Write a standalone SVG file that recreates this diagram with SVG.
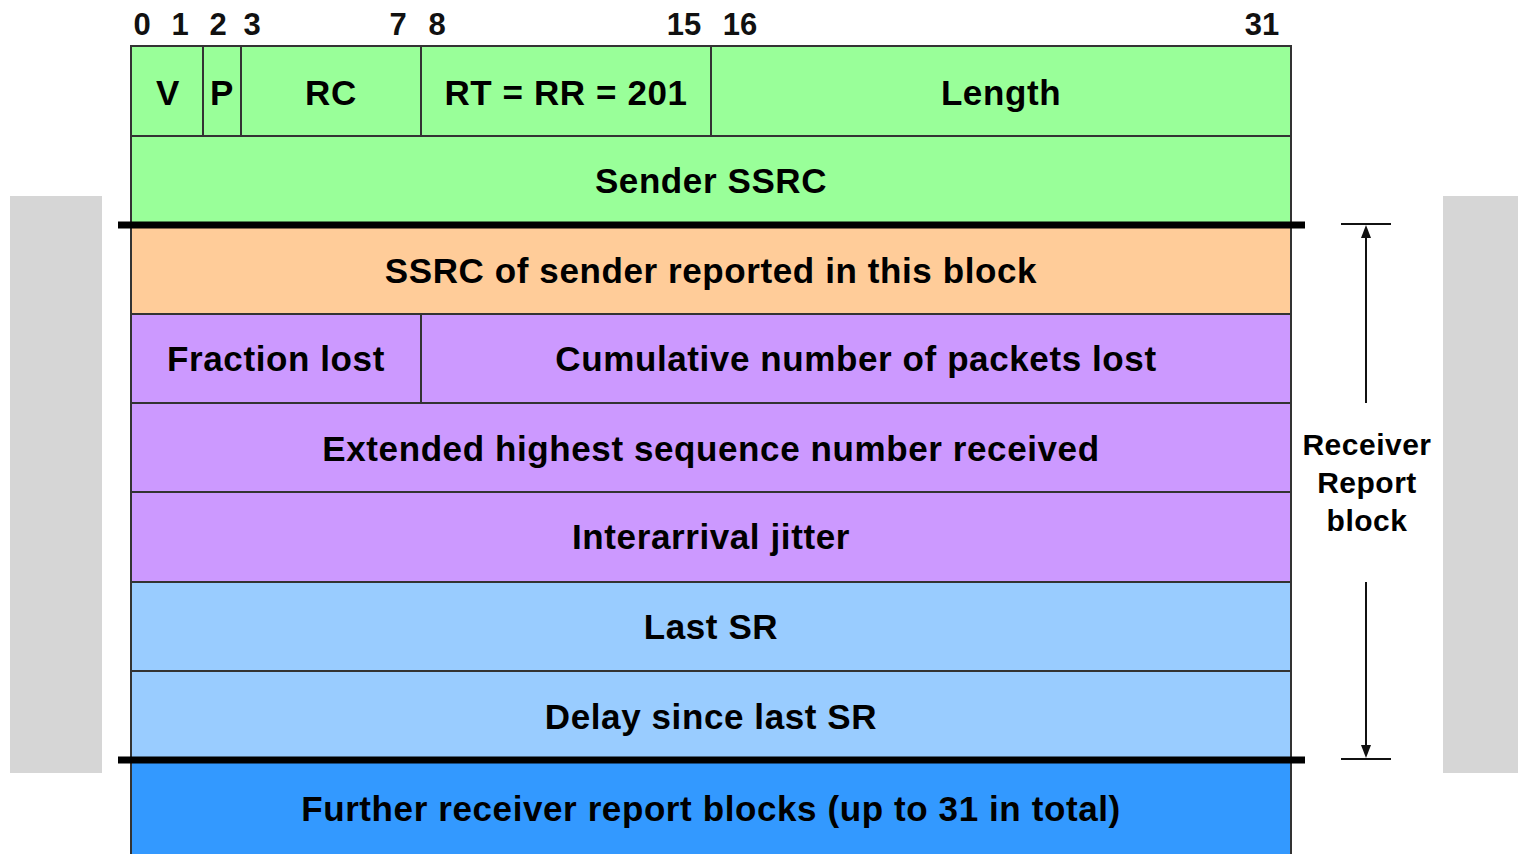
<svg xmlns="http://www.w3.org/2000/svg" width="1518" height="854" viewBox="0 0 1518 854">
<defs>
<style>
.t{font-family:"Liberation Sans",Arial,sans-serif;font-weight:bold;font-size:35px;fill:#000;text-anchor:middle;letter-spacing:0.6px}
.n{font-family:"Liberation Sans",Arial,sans-serif;font-weight:bold;font-size:31px;fill:#111;text-anchor:middle}
.s{font-family:"Liberation Sans",Arial,sans-serif;font-weight:bold;font-size:30px;fill:#000;text-anchor:middle;letter-spacing:0.5px}
.c{stroke:#333;stroke-width:2}
.div{stroke:#333;stroke-width:2}
.thick{stroke:#000;stroke-width:7}
.dim{stroke:#111;stroke-width:2;fill:none}
.head{fill:#111}
</style>
</defs>
<rect width="1518" height="854" fill="#fff"/>
<rect x="10" y="196" width="92" height="577" fill="#d6d6d6"/>
<rect x="1443" y="196" width="75" height="577" fill="#d6d6d6"/>

<g id="bits">
<text class="n" x="142" y="35">0</text>
<text class="n" x="180" y="35">1</text>
<text class="n" x="218" y="35">2</text>
<text class="n" x="252" y="35">3</text>
<text class="n" x="398" y="35">7</text>
<text class="n" x="437" y="35">8</text>
<text class="n" x="684" y="35">15</text>
<text class="n" x="740" y="35">16</text>
<text class="n" x="1262" y="35">31</text>
</g>

<g id="row-header">
<rect class="c" x="131" y="46" width="1160" height="90" fill="#99ff99"/>
<line class="div" x1="203" y1="46" x2="203" y2="136"/>
<line class="div" x1="241" y1="46" x2="241" y2="136"/>
<line class="div" x1="421" y1="46" x2="421" y2="136"/>
<line class="div" x1="711" y1="46" x2="711" y2="136"/>
<text class="t" x="168" y="105">V</text>
<text class="t" x="222" y="105">P</text>
<text class="t" x="331" y="105">RC</text>
<text class="t" x="566" y="105">RT = RR = 201</text>
<text class="t" x="1001" y="105">Length</text>
</g>
<g id="sender-ssrc">
<rect class="c" x="131" y="136" width="1160" height="88" fill="#99ff99"/>
<text class="t" x="711" y="193">Sender SSRC</text>
</g>
<g id="ssrc-reported">
<rect class="c" x="131" y="225" width="1160" height="89" fill="#ffcc99"/>
<text class="t" x="711" y="283">SSRC of sender reported in this block</text>
</g>
<g id="lost">
<rect class="c" x="131" y="314" width="1160" height="89" fill="#cc99ff"/>
<line class="div" x1="421" y1="314" x2="421" y2="403"/>
<text class="t" x="276" y="371">Fraction lost</text>
<text class="t" x="856" y="371">Cumulative number of packets lost</text>
</g>
<g id="ext-seq">
<rect class="c" x="131" y="403" width="1160" height="89" fill="#cc99ff"/>
<text class="t" x="711" y="461">Extended highest sequence number received</text>
</g>
<g id="jitter">
<rect class="c" x="131" y="492" width="1160" height="90" fill="#cc99ff"/>
<text class="t" x="711" y="549">Interarrival jitter</text>
</g>
<g id="last-sr">
<rect class="c" x="131" y="582" width="1160" height="89" fill="#99ccff"/>
<text class="t" x="711" y="639">Last SR</text>
</g>
<g id="delay">
<rect class="c" x="131" y="671" width="1160" height="89" fill="#99ccff"/>
<text class="t" x="711" y="729">Delay since last SR</text>
</g>
<g id="further">
<rect class="c" x="131" y="760" width="1160" height="100" fill="#3399ff"/>
<text class="t" x="711" y="821">Further receiver report blocks (up to 31 in total)</text>
</g>

<g id="separators">
<line class="thick" x1="118" y1="225" x2="1305" y2="225"/>
<line class="thick" x1="118" y1="760" x2="1305" y2="760"/>
</g>

<g id="connectors">
<line class="dim" x1="1341" y1="224" x2="1391" y2="224"/>
<line class="dim" x1="1341" y1="759" x2="1391" y2="759"/>
<line class="dim" x1="1366" y1="236" x2="1366" y2="403"/>
<line class="dim" x1="1366" y1="582" x2="1366" y2="747"/>
<polygon class="head" points="1366,225 1371,238 1361,238"/>
<polygon class="head" points="1366,758 1371,745 1361,745"/>
</g>
<g id="rr-label">
<text class="s" x="1367" y="455">Receiver</text>
<text class="s" x="1367" y="493">Report</text>
<text class="s" x="1367" y="531">block</text>
</g>
</svg>
